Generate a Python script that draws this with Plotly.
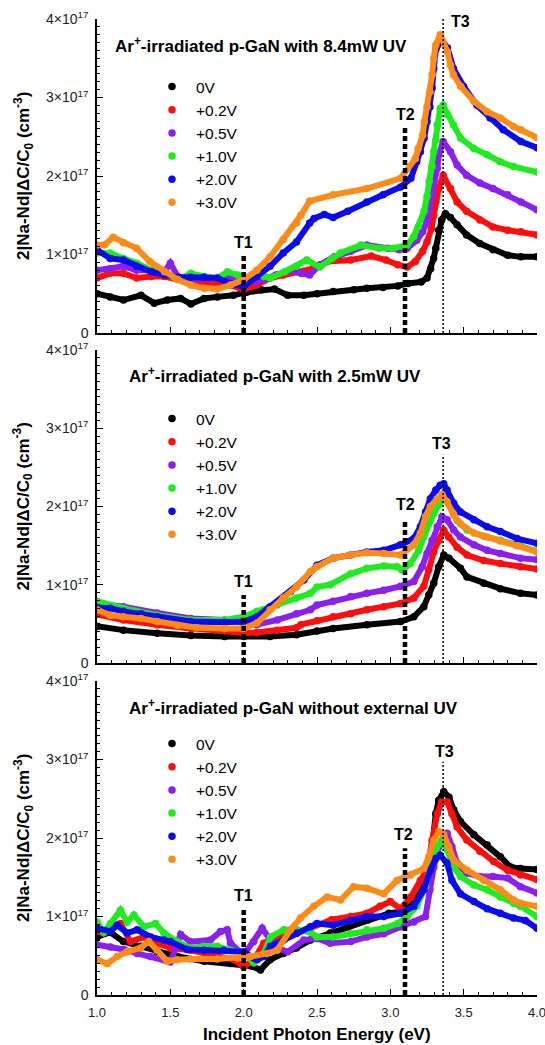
import plotly.graph_objects as go
from plotly.subplots import make_subplots

SCALE = 1e17  # values below are in units of 1e17 cm^-3
VOLTAGES = ['0V', '+0.2V', '+0.5V', '+1.0V', '+2.0V', '+3.0V']
COLORS = ['#000000', '#ff0d0d', '#8a1ff0', '#1fec1f', '#0b0bef', '#ff8b17']

PANEL_TITLES = ['Ar<sup>+</sup>-irradiated p-GaN with 8.4mW UV',
                'Ar<sup>+</sup>-irradiated p-GaN with 2.5mW UV',
                'Ar<sup>+</sup>-irradiated p-GaN without external UV']
X_TICKS = [1.0, 1.5, 2.0, 2.5, 3.0, 3.5, 4.0]
Y_TICKS = [0, 1, 2, 3, 4]
Y_TICKTEXT = ['0', '1×10<sup>17</sup>', '2×10<sup>17</sup>', '3×10<sup>17</sup>', '4×10<sup>17</sup>']

# ---------------- panel 1 : 8.4 mW UV ----------------
p1_e_0V = [1.00,1.09,1.18,1.30,1.39,1.48,1.57,1.64,1.73,1.82,1.93,2.02,2.12,2.21,2.30,2.41,2.50,2.61,2.75,2.84,2.95,3.05,3.12,3.21,3.25,3.275,3.295,3.31,3.33,3.35,3.375,3.41,3.455,3.52,3.61,3.70,3.80,3.89,4.00]
p1_v_0V = [0.50,0.46,0.42,0.48,0.38,0.42,0.44,0.37,0.44,0.46,0.48,0.52,0.55,0.56,0.48,0.48,0.50,0.53,0.55,0.57,0.58,0.60,0.63,0.65,0.70,0.82,0.95,1.08,1.31,1.44,1.52,1.47,1.38,1.25,1.14,1.06,0.99,0.97,0.97]
p1_e_02V = [1.00,1.09,1.18,1.27,1.37,1.46,1.55,1.64,1.73,1.82,1.91,2.00,2.09,2.18,2.27,2.36,2.47,2.57,2.73,2.87,2.97,3.05,3.115,3.17,3.22,3.25,3.28,3.296,3.31,3.33,3.36,3.41,3.455,3.52,3.61,3.70,3.80,3.89,4.00]
p1_v_02V = [0.70,0.76,0.76,0.70,0.72,0.72,0.68,0.65,0.65,0.63,0.61,0.55,0.61,0.70,0.74,0.78,0.82,0.91,0.93,0.98,0.93,0.87,0.84,0.91,1.04,1.16,1.33,1.50,1.67,1.84,2.01,1.84,1.67,1.55,1.44,1.35,1.31,1.29,1.25]
p1_e_05V = [1.00,1.09,1.18,1.27,1.37,1.46,1.50,1.55,1.64,1.77,1.91,2.00,2.09,2.14,2.22,2.33,2.39,2.45,2.52,2.62,2.73,2.84,2.98,3.06,3.115,3.18,3.22,3.25,3.265,3.285,3.296,3.32,3.33,3.36,3.41,3.455,3.52,3.61,3.70,3.80,3.89,4.00]
p1_v_05V = [0.80,0.82,0.85,0.80,0.80,0.78,0.89,0.72,0.68,0.70,0.70,0.65,0.66,0.68,0.74,0.80,0.76,0.74,0.87,0.97,1.04,1.12,1.08,1.06,1.08,1.18,1.29,1.42,1.59,1.76,1.93,2.10,2.27,2.44,2.31,2.14,2.01,1.91,1.84,1.76,1.67,1.57]
p1_e_1V = [1.00,1.09,1.18,1.27,1.37,1.46,1.55,1.64,1.73,1.82,1.89,1.96,2.02,2.09,2.14,2.18,2.28,2.36,2.43,2.52,2.60,2.66,2.80,2.92,3.02,3.115,3.16,3.19,3.23,3.25,3.265,3.285,3.296,3.31,3.32,3.34,3.36,3.39,3.43,3.48,3.57,3.66,3.75,3.84,4.00]
p1_v_1V = [1.02,1.02,0.95,0.89,0.80,0.76,0.68,0.76,0.72,0.70,0.78,0.74,0.70,0.76,0.72,0.70,0.78,0.85,0.93,0.84,0.95,1.02,1.12,1.08,1.08,1.12,1.23,1.35,1.55,1.74,1.93,2.12,2.31,2.46,2.65,2.86,2.90,2.78,2.65,2.48,2.35,2.27,2.18,2.12,2.05]
p1_e_2V = [1.00,1.09,1.18,1.27,1.37,1.46,1.55,1.64,1.73,1.82,1.91,2.00,2.09,2.18,2.27,2.36,2.45,2.48,2.55,2.61,2.71,2.84,2.95,3.07,3.14,3.18,3.205,3.23,3.25,3.27,3.285,3.296,3.31,3.35,3.39,3.43,3.50,3.59,3.68,3.77,3.89,4.00]
p1_v_2V = [1.06,0.95,0.93,0.85,0.78,0.74,0.71,0.71,0.71,0.70,0.63,0.59,0.72,0.85,1.02,1.16,1.40,1.46,1.51,1.47,1.55,1.67,1.76,1.86,1.97,2.18,2.31,2.48,2.69,2.88,3.12,3.37,3.61,3.73,3.63,3.37,3.14,2.90,2.74,2.59,2.44,2.36]
p1_e_3V = [1.00,1.05,1.11,1.18,1.27,1.36,1.46,1.55,1.64,1.73,1.82,1.91,2.00,2.09,2.18,2.27,2.36,2.39,2.45,2.61,2.84,3.07,3.17,3.19,3.22,3.232,3.25,3.27,3.285,3.296,3.31,3.34,3.39,3.41,3.43,3.48,3.57,3.66,3.75,3.84,3.89,4.00]
p1_v_3V = [1.12,1.12,1.22,1.15,1.08,0.91,0.78,0.68,0.61,0.57,0.56,0.61,0.68,0.80,0.97,1.19,1.40,1.50,1.68,1.76,1.84,1.97,2.22,2.35,2.52,2.69,2.88,3.07,3.29,3.50,3.67,3.80,3.58,3.41,3.29,3.14,2.95,2.82,2.74,2.63,2.59,2.49]

# ---------------- panel 2 : 2.5 mW UV ----------------
p2_e_0V = [1.00,1.18,1.41,1.64,1.87,2.00,2.18,2.36,2.50,2.61,2.84,3.07,3.16,3.228,3.262,3.296,3.33,3.364,3.40,3.478,3.523,3.637,3.75,3.887,4.00]
p2_v_0V = [0.47,0.42,0.38,0.35,0.34,0.34,0.34,0.36,0.41,0.44,0.49,0.53,0.59,0.72,0.87,1.02,1.23,1.38,1.34,1.21,1.10,1.02,0.95,0.89,0.87]
p2_e_02V = [1.00,1.18,1.41,1.64,1.87,2.00,2.09,2.23,2.36,2.39,2.50,2.61,2.73,2.84,2.955,3.069,3.16,3.228,3.262,3.296,3.33,3.364,3.398,3.455,3.523,3.637,3.75,3.887,4.00]
p2_v_02V = [0.62,0.55,0.49,0.44,0.41,0.38,0.39,0.42,0.45,0.49,0.54,0.59,0.63,0.68,0.72,0.76,0.83,0.98,1.19,1.42,1.57,1.70,1.61,1.48,1.38,1.31,1.27,1.23,1.20]
p2_e_05V = [1.00,1.18,1.41,1.64,1.87,2.00,2.09,2.23,2.36,2.455,2.50,2.61,2.73,2.84,2.955,3.069,3.16,3.217,3.25,3.285,3.32,3.352,3.387,3.432,3.478,3.57,3.66,3.75,3.887,4.00]
p2_v_05V = [0.76,0.72,0.64,0.57,0.55,0.51,0.49,0.55,0.63,0.68,0.74,0.79,0.85,0.89,0.93,0.98,1.04,1.23,1.40,1.57,1.74,1.87,1.83,1.70,1.61,1.51,1.44,1.40,1.34,1.32]
p2_e_1V = [1.00,1.18,1.41,1.64,1.87,2.00,2.09,2.23,2.36,2.455,2.50,2.59,2.73,2.84,2.955,3.046,3.08,3.137,3.194,3.228,3.262,3.296,3.33,3.364,3.398,3.455,3.523,3.637,3.75,3.887,4.00]
p2_v_1V = [0.79,0.70,0.61,0.55,0.55,0.59,0.66,0.74,0.83,0.89,0.97,1.00,1.14,1.21,1.24,1.23,1.19,1.27,1.44,1.61,1.78,1.91,2.02,2.11,2.03,1.82,1.70,1.62,1.57,1.50,1.43]
p2_e_2V = [1.00,1.09,1.18,1.30,1.41,1.64,1.87,2.00,2.09,2.18,2.32,2.41,2.50,2.61,2.73,2.84,2.955,3.069,3.16,3.205,3.24,3.273,3.31,3.34,3.364,3.387,3.432,3.478,3.57,3.66,3.75,3.864,4.00]
p2_v_2V = [0.71,0.70,0.66,0.63,0.59,0.53,0.52,0.53,0.59,0.72,0.91,1.06,1.25,1.34,1.38,1.42,1.44,1.51,1.59,1.74,1.93,2.10,2.21,2.27,2.29,2.21,2.04,1.93,1.83,1.74,1.68,1.59,1.53]
p2_e_3V = [1.00,1.09,1.18,1.30,1.41,1.55,1.68,1.87,2.00,2.09,2.18,2.27,2.36,2.455,2.50,2.61,2.73,2.84,2.955,3.069,3.16,3.205,3.24,3.273,3.32,3.352,3.387,3.432,3.478,3.57,3.66,3.75,3.864,4.00]
p2_v_3V = [0.68,0.61,0.59,0.57,0.53,0.48,0.45,0.44,0.44,0.51,0.68,0.83,0.97,1.17,1.23,1.34,1.38,1.41,1.40,1.38,1.51,1.66,1.87,2.00,2.10,2.15,2.06,1.89,1.78,1.66,1.61,1.56,1.50,1.42]

# ---------------- panel 3 : no external UV ----------------
p3_e_0V = [1.00,1.09,1.18,1.30,1.41,1.55,1.73,1.91,2.00,2.05,2.115,2.18,2.27,2.36,2.455,2.59,2.71,2.85,2.99,3.07,3.16,3.23,3.26,3.285,3.31,3.33,3.364,3.40,3.432,3.478,3.57,3.66,3.75,3.82,3.887,4.00]
p3_v_0V = [0.74,0.80,0.68,0.62,0.55,0.49,0.43,0.40,0.38,0.37,0.32,0.45,0.53,0.60,0.70,0.79,0.87,0.96,1.04,1.06,1.17,1.38,1.63,1.89,2.31,2.48,2.59,2.52,2.36,2.21,2.04,1.91,1.76,1.63,1.61,1.60]
p3_e_02V = [1.00,1.046,1.092,1.16,1.228,1.319,1.41,1.50,1.637,1.82,1.933,2.00,2.07,2.137,2.228,2.364,2.455,2.60,2.73,2.84,2.93,3.00,3.07,3.14,3.205,3.25,3.285,3.32,3.35,3.387,3.42,3.455,3.523,3.61,3.705,3.80,3.887,4.00]
p3_v_02V = [0.81,0.79,0.87,0.91,0.68,0.74,0.66,0.60,0.57,0.49,0.45,0.36,0.45,0.66,0.74,0.79,0.85,0.96,1.00,1.04,1.13,1.19,1.10,1.25,1.46,1.59,1.97,2.31,2.46,2.46,2.31,2.14,1.97,1.83,1.70,1.59,1.53,1.47]
p3_e_05V = [1.00,1.092,1.183,1.274,1.365,1.456,1.50,1.57,1.637,1.773,1.842,1.887,1.91,2.001,2.069,2.126,2.183,2.228,2.30,2.41,2.50,2.59,2.73,2.84,2.955,3.07,3.16,3.24,3.27,3.296,3.33,3.387,3.42,3.455,3.52,3.61,3.70,3.80,3.887,4.00]
p3_v_05V = [0.64,0.61,0.58,0.53,0.49,0.45,0.42,0.77,0.68,0.70,0.81,0.83,0.66,0.51,0.68,0.85,0.70,0.60,0.55,0.70,0.72,0.66,0.68,0.74,0.78,0.87,0.93,1.00,1.34,1.63,1.89,2.06,1.89,1.68,1.55,1.51,1.51,1.49,1.38,1.30]
p3_e_1V = [1.00,1.046,1.092,1.16,1.206,1.251,1.319,1.399,1.456,1.546,1.637,1.728,1.819,1.91,2.001,2.069,2.137,2.183,2.274,2.364,2.455,2.50,2.61,2.73,2.84,2.955,3.05,3.114,3.18,3.24,3.273,3.31,3.35,3.387,3.432,3.478,3.57,3.66,3.75,3.84,3.887,4.00]
p3_v_1V = [0.93,0.80,0.91,1.08,0.93,1.02,0.87,0.91,0.79,0.68,0.60,0.62,0.62,0.57,0.54,0.41,0.53,0.74,0.83,0.83,0.80,0.74,0.74,0.78,0.83,0.85,0.91,1.00,1.13,1.38,1.63,1.85,1.97,1.85,1.63,1.51,1.40,1.34,1.25,1.17,1.13,1.00]
p3_e_2V = [1.00,1.092,1.137,1.206,1.274,1.365,1.456,1.50,1.615,1.728,1.865,2.001,2.069,2.092,2.137,2.183,2.274,2.364,2.455,2.50,2.61,2.73,2.84,2.955,3.07,3.16,3.228,3.273,3.31,3.34,3.387,3.42,3.478,3.57,3.66,3.75,3.84,3.92,4.00]
p3_v_2V = [0.85,0.81,0.89,0.79,0.83,0.74,0.70,0.68,0.58,0.57,0.57,0.55,0.47,0.45,0.49,0.62,0.70,0.79,0.87,0.91,0.89,0.95,1.00,1.00,1.04,1.13,1.34,1.59,1.74,1.78,1.68,1.46,1.29,1.19,1.10,1.04,0.98,0.95,0.85]
p3_e_3V = [1.00,1.069,1.137,1.206,1.297,1.353,1.41,1.479,1.546,1.637,1.819,1.956,2.047,2.16,2.228,2.319,2.387,2.478,2.569,2.66,2.75,2.84,2.955,3.046,3.137,3.228,3.262,3.296,3.33,3.364,3.398,3.432,3.523,3.637,3.75,3.84,3.887,4.00]
p3_v_3V = [0.45,0.40,0.49,0.55,0.60,0.68,0.57,0.43,0.45,0.46,0.46,0.47,0.49,0.53,0.57,0.83,0.98,1.13,1.25,1.21,1.38,1.36,1.29,1.46,1.53,1.61,1.76,1.97,2.08,2.04,1.89,1.72,1.59,1.46,1.34,1.21,1.17,1.13]

PANELS = [
    [(p1_e_0V, p1_v_0V), (p1_e_02V, p1_v_02V), (p1_e_05V, p1_v_05V),
     (p1_e_1V, p1_v_1V), (p1_e_2V, p1_v_2V), (p1_e_3V, p1_v_3V)],
    [(p2_e_0V, p2_v_0V), (p2_e_02V, p2_v_02V), (p2_e_05V, p2_v_05V),
     (p2_e_1V, p2_v_1V), (p2_e_2V, p2_v_2V), (p2_e_3V, p2_v_3V)],
    [(p3_e_0V, p3_v_0V), (p3_e_02V, p3_v_02V), (p3_e_05V, p3_v_05V),
     (p3_e_1V, p3_v_1V), (p3_e_2V, p3_v_2V), (p3_e_3V, p3_v_3V)],
]

# transition markers T1, T2, T3 (energy, line top per panel, label position per panel)
T_NAMES = ['T1', 'T2', 'T3']
T_ENERGY = [2.0, 3.1, 3.36]
T_TOP = [[0.99, 2.61, 4.0], [0.87, 1.84, 2.66], [1.10, 1.87, 2.97]]
T_LABEL_X = [[2.0, 3.1, 3.475], [2.0, 3.1, 3.35], [2.0, 3.09, 3.37]]
T_LABEL_Y = [[1.15, 2.78, 3.97], [1.04, 2.02, 2.81], [1.27, 2.04, 3.10]]
TITLE_POS = [(1.109, 3.67), (1.206, 3.68), (1.206, 3.67)]

# ---------------- layout geometry (pixels) ----------------
W, H = 545, 1045
ML, MR, MT, MB = 97, 8, 19, 50
PANEL_PX = [(19, 333), (350, 663), (681, 995)]   # top, bottom of each plot area
PH = H - MT - MB


def py2paper(py):
    return (H - MB - py) / PH


def px2paper(px):
    return (px - ML) / (W - ML - MR)


FONT = 'Arial, Liberation Sans, sans-serif'

fig = make_subplots(rows=3, cols=1)
legend_names = ['legend', 'legend2', 'legend3']

for pi, series in enumerate(PANELS):
    row = pi + 1
    for k, (ex, vy) in enumerate(series):
        yy = [v * SCALE for v in vy]
        fig.add_trace(go.Scatter(x=ex, y=yy, mode='lines',
                                 line=dict(color=COLORS[k], width=6),
                                 showlegend=False, hoverinfo='skip'), row=row, col=1)
        fig.add_trace(go.Scatter(x=ex, y=yy, mode='markers',
                                 marker=dict(color=COLORS[k], size=7.5, line=dict(width=0)),
                                 name=VOLTAGES[k], legend=legend_names[pi],
                                 showlegend=True), row=row, col=1)

for pi in range(3):
    top, bot = PANEL_PX[pi]
    xname = 'xaxis' if pi == 0 else 'xaxis%d' % (pi + 1)
    yname = 'yaxis' if pi == 0 else 'yaxis%d' % (pi + 1)
    fig.layout[xname].update(
        range=[1.0, 4.0], tickmode='array', tickvals=X_TICKS,
        ticktext=['%.1f' % t for t in X_TICKS],
        showticklabels=(pi == 2), ticks='inside', ticklen=6, tickwidth=1.2,
        tickcolor='black', showline=True, linecolor='black', linewidth=1.5,
        showgrid=False, zeroline=False, tickfont=dict(family=FONT, size=13, color='#222'),
        ticklabelstandoff=5, ticklabeloverflow='allow',
        minor=dict(ticks='inside', dtick=0.1, tick0=1.0, ticklen=3.5, tickwidth=1,
                   tickcolor='black', showgrid=False))
    fig.layout[yname].update(
        domain=[py2paper(bot), py2paper(top)],
        range=[0, 4 * SCALE], tickmode='array', tickvals=[t * SCALE for t in Y_TICKS],
        ticktext=Y_TICKTEXT, ticks='inside', ticklen=6, tickwidth=1.2, tickcolor='black',
        showline=True, linecolor='black', linewidth=1.5, showgrid=False, zeroline=False,
        tickfont=dict(family=FONT, size=14, color='#222'), ticklabelstandoff=4,
        ticklabeloverflow='allow',
        minor=dict(ticks='inside', dtick=0.1 * SCALE, tick0=0, ticklen=3.5, tickwidth=1,
                   tickcolor='black', showgrid=False))

shapes = []
annotations = []
for pi in range(3):
    xr = 'x' if pi == 0 else 'x%d' % (pi + 1)
    yr = 'y' if pi == 0 else 'y%d' % (pi + 1)
    for ti in range(3):
        thick = ti < 2
        shapes.append(dict(type='line', xref=xr, yref=yr,
                           x0=T_ENERGY[ti], x1=T_ENERGY[ti], y0=0, y1=T_TOP[pi][ti] * SCALE,
                           line=dict(color='black', width=4.5 if thick else 1.5,
                                     dash='5px,3px' if thick else '2px,2px')))
        annotations.append(dict(xref=xr, yref=yr, x=T_LABEL_X[pi][ti], y=T_LABEL_Y[pi][ti] * SCALE,
                                text='<b>%s</b>' % T_NAMES[ti], showarrow=False,
                                xanchor='center', yanchor='middle',
                                font=dict(family=FONT, size=16, color='black')))
    tx, ty = TITLE_POS[pi]
    annotations.append(dict(xref=xr, yref=yr, x=tx, y=ty * SCALE, text='<b>%s</b>' % PANEL_TITLES[pi],
                            showarrow=False, xanchor='left', yanchor='middle',
                            font=dict(family=FONT, size=17, color='black')))
    top, bot = PANEL_PX[pi]
    annotations.append(dict(xref='paper', yref='paper', x=px2paper(23), y=py2paper((top + bot) / 2),
                            text='<b>2|Na-Nd|ΔC/C<sub>0</sub> (cm<sup>-3</sup>)</b>', textangle=-90,
                            showarrow=False, xanchor='center', yanchor='middle',
                            font=dict(family=FONT, size=17, color='black')))

annotations.append(dict(xref='paper', yref='paper', x=px2paper(317), y=py2paper(1034),
                        text='<b>Incident Photon Energy (eV)</b>', showarrow=False,
                        xanchor='center', yanchor='middle',
                        font=dict(family=FONT, size=17, color='black')))

LEGEND_TOP_PX = [70, 402, 727]
legend_common = dict(xanchor='left', yanchor='top', bgcolor='rgba(0,0,0,0)',
                     font=dict(family=FONT, size=15.5, color='black'), tracegroupgap=0,
                     itemwidth=38, borderwidth=0)
layout_legends = {}
for pi, ln in enumerate(legend_names):
    layout_legends[ln] = dict(x=px2paper(148), y=py2paper(LEGEND_TOP_PX[pi]), **legend_common)

fig.update_layout(
    width=W, height=H, margin=dict(l=ML, r=MR, t=MT, b=MB, autoexpand=False),
    paper_bgcolor='white', plot_bgcolor='white',
    font=dict(family=FONT, color='black'),
    shapes=shapes, annotations=annotations, showlegend=True,
    **layout_legends)

fig.write_html('out.html')
